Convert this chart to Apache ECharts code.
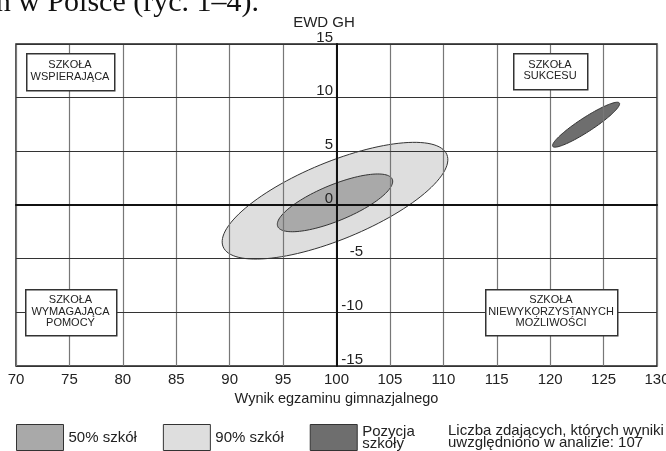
<!DOCTYPE html>
<html>
<head>
<meta charset="utf-8">
<script src="https://cdn.jsdelivr.net/npm/echarts@6/dist/echarts.min.js"></script>
<style>
html,body{margin:0;padding:0;background:#fff;}
#chart{width:666px;height:451px;}
</style>
</head>
<body>
<div id="chart"></div>
<script>
// ---- data ----
const xTicks = [70, 75, 80, 85, 90, 95, 100, 105, 110, 115, 120, 125, 130];
const yTicks = [-15, -10, -5, 0, 5, 10, 15];
const regionNames = ['90% szkół', '50% szkół', 'Pozycja\nszkoły'];
const centerX = [99.86, 99.86, 123.36];   // Wynik egzaminu gimnazjalnego
const centerY = [0.40, 0.20, 7.48];       // EWD GH
const majorDX = [10.47, 5.36, 3.12];      // semi-major axis (data units)
const majorDY = [4.30, 2.20, 2.02];
const minorDX = [-1.39, -0.65, -0.36];    // semi-minor axis (data units)
const minorDY = [3.33, 1.55, 0.55];
const regionColors = ['#dedede', '#a9a9a9', '#6e6e6e'];
const legendOrder = ['50% szkół', '90% szkół', 'Pozycja\nszkoły'];
const quadrantLabels = ['SZKOŁA\nWSPIERAJĄCA', 'SZKOŁA\nSUKCESU', 'SZKOŁA\nWYMAGAJĄCA\nPOMOCY', 'SZKOŁA\nNIEWYKORZYSTANYCH\nMOŻLIWOŚCI'];
const noteText = 'Liczba zdających, których wyniki\nuwzględniono w analizie: 107';
const pageText = 'ch w Polsce (ryc. 1–4).';

const chart = echarts.init(document.getElementById('chart'), null, {renderer: 'canvas'});
const FONT = '"Liberation Sans", Arial, sans-serif';

function renderEllipse(params, api) {
  const cx = api.value(0), cy = api.value(1);
  const ux = api.value(2), uy = api.value(3);
  const vx = api.value(4), vy = api.value(5);
  const pts = [];
  const N = 120;
  for (let i = 0; i < N; i++) {
    const t = 2 * Math.PI * i / N;
    pts.push(api.coord([cx + ux * Math.cos(t) + vx * Math.sin(t), cy + uy * Math.cos(t) + vy * Math.sin(t)]));
  }
  return {
    type: 'polygon',
    shape: {points: pts},
    style: api.style({fill: api.visual('color'), stroke: '#333', lineWidth: 1})
  };
}

const series = regionNames.map((name, i) => ({
  type: 'custom',
  name: name,
  renderItem: renderEllipse,
  coordinateSystem: 'cartesian2d',
  z: 2,
  itemStyle: {color: regionColors[i], borderColor: '#333', borderWidth: 1},
  encode: {x: 0, y: 1},
  silent: true,
  data: [[centerX[i], centerY[i], majorDX[i], majorDY[i], minorDX[i], minorDY[i]]]
}));

// quadrant boxes (pixel layout)
const boxes = [
  {x: 26, y: 53, w: 88, h: 37},
  {x: 513, y: 53, w: 74, h: 36},
  {x: 25, y: 289, w: 91, h: 46},
  {x: 485, y: 289, w: 132, h: 46}
];
const graphics = [];
boxes.forEach((b, i) => {
  graphics.push({
    type: 'rect', z: 100, left: b.x, top: b.y,
    shape: {width: b.w, height: b.h},
    style: {fill: '#fff', stroke: '#333', lineWidth: 1.5}
  });
  graphics.push({
    type: 'text', z: 101, x: b.x + b.w / 2, y: b.y + b.h / 2 - 0.5,
    style: {text: quadrantLabels[i], font: '11px ' + FONT, fill: '#222', align: 'center', verticalAlign: 'middle', lineHeight: 11.5}
  });
});
graphics.push({
  type: 'text', z: 101, x: 448, y: 436.5,
  style: {text: noteText, font: '15px ' + FONT, fill: '#222', align: 'left', verticalAlign: 'middle', lineHeight: 12}
});
graphics.push({
  type: 'text', z: 101, x: 259, y: 3,
  style: {text: pageText, font: '30px "Liberation Serif", "Times New Roman", serif', fill: '#111', align: 'right', verticalAlign: 'middle'}
});

const option = {
  animation: false,
  backgroundColor: '#fff',
  textStyle: {fontFamily: FONT},
  grid: {left: 16, right: 9, top: 44, bottom: 85, show: true, borderColor: '#222', borderWidth: 1.5,
    backgroundColor: 'transparent', containLabel: false, outerBoundsMode: 'none'},
  legend: {
    data: legendOrder.map(n => ({name: n, icon: 'rect'})),
    left: 16, top: 424, padding: 0,
    itemWidth: 47, itemHeight: 26, itemGap: 26,
    selectedMode: false,
    itemStyle: {borderColor: '#333', borderWidth: 1},
    textStyle: {fontSize: 15, color: '#222', fontFamily: FONT, lineHeight: 12, padding: [0, 0, 0, 0]}
  },
  xAxis: [
    {
      type: 'value', position: 'bottom', min: xTicks[0], max: xTicks[xTicks.length - 1], interval: 5, z: 5,
      axisLine: {show: false, onZero: false}, axisTick: {show: false},
      axisLabel: {fontSize: 15, color: '#222', margin: 6, fontFamily: FONT},
      splitLine: {show: true, lineStyle: {color: '#777', width: 1.2}},
      name: 'Wynik egzaminu gimnazjalnego', nameLocation: 'middle', nameGap: 21,
      nameTextStyle: {fontSize: 14.5, color: '#222', fontFamily: FONT}
    },
    {
      type: 'value', position: 'bottom', min: xTicks[0], max: xTicks[xTicks.length - 1], interval: 5, z: 7,
      axisLine: {show: true, onZero: true, onZeroAxisIndex: 0, lineStyle: {color: '#111', width: 2}},
      axisTick: {show: false}, axisLabel: {show: false}, splitLine: {show: false}
    }
  ],
  yAxis: [
    {
      type: 'value', position: 'left', offset: -321, min: yTicks[0], max: yTicks[yTicks.length - 1], interval: 5, z: 6,
      axisLine: {show: true, onZero: false, lineStyle: {color: '#111', width: 2}},
      axisTick: {show: false},
      axisLabel: {fontSize: 15, color: '#222', margin: 4, verticalAlign: 'bottom', lineHeight: 13, fontFamily: FONT,
        formatter: v => (v >= 0 ? String(v) : '')},
      splitLine: {show: true, lineStyle: {color: '#333', width: 1}},
      name: 'EWD GH', nameLocation: 'end', nameGap: 13,
      nameTextStyle: {fontSize: 15, color: '#222', fontFamily: FONT, align: 'center', verticalAlign: 'bottom', padding: [0, 26, 0, 0]}
    },
    {
      type: 'value', position: 'right', offset: -320, min: yTicks[0], max: yTicks[yTicks.length - 1], interval: 5, z: 6,
      axisLine: {show: false, onZero: false}, axisTick: {show: false},
      axisLabel: {fontSize: 15, color: '#222', margin: 26, align: 'right', verticalAlign: 'bottom', lineHeight: 13, fontFamily: FONT,
        formatter: v => (v < 0 ? String(v) : '')},
      splitLine: {show: false}
    }
  ],
  series: series,
  graphic: graphics
};
chart.setOption(option);
</script>
</body>
</html>
